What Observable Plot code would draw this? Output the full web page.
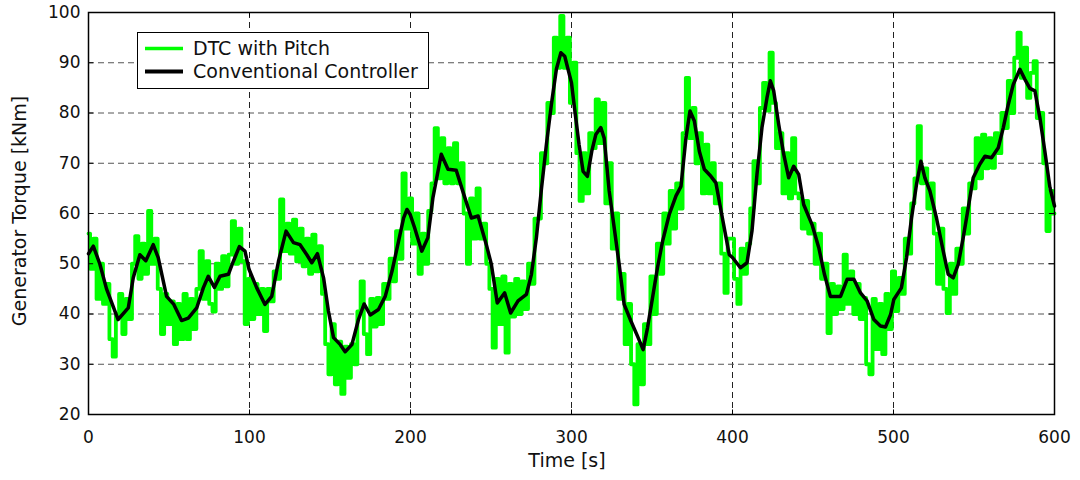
<!DOCTYPE html>
<html><head><meta charset="utf-8">
<script src="https://cdn.jsdelivr.net/npm/d3@7"></script>
<script src="https://cdn.jsdelivr.net/npm/@observablehq/plot@0.6"></script>
<style>body{margin:0;background:#fff;} #chart{width:1080px;height:480px;}</style>
</head><body><div id="chart"></div>
<script>
const xTicks = [0, 100, 200, 300, 400, 500, 600];
const yTicks = [20, 30, 40, 50, 60, 70, 80, 90, 100];
const seriesNames = ["DTC with Pitch", "Conventional Controller"];
const xLabel = "Time [s]";
const yLabel = "Generator Torque [kNm]";

// Conventional controller (black)
const convT = [0, 3, 7, 11.2, 18.4, 24.7, 27.8, 31.9, 35.6, 40.2, 43.3, 48.5, 53, 57.8, 62, 67.2, 71.3, 74.4, 78.2, 81.7, 86.9, 90, 93.7, 97.2, 99.7,
  104.5, 109.6, 113.8, 118, 122.7, 127.3, 131.4, 135.6, 138.7, 142.2, 146, 149, 152.2, 156.4, 159.4, 163.6, 167.7, 171.2, 175, 180.1, 184.3, 188.5, 192.6, 195.7, 197.8, 199.8,
  202.5, 207, 210.8, 213.9, 219.1, 223.3, 228.4, 232.8, 237.8, 242, 247.1, 250.2, 253.9, 258.5, 262.2, 266.8, 272, 275.1, 278.2, 281.4, 284.4, 287.5, 290.6, 293.4, 295.8, 300,
  301.6, 304.7, 307.2, 309.9, 312.6, 315.1, 318.2, 320.3, 323.4, 326.5, 329.6, 332.7, 336.9, 341, 344.5, 347.2, 350.3, 353.4, 356.6, 360.7, 364.9, 368, 371.1, 373.6, 376.3, 379.4, 382.5, 386.6, 389.7, 392.9, 396, 398, 400.1,
  404.9, 409, 412.1, 415.2, 418.3, 421.4, 423.5, 425.6, 428.7, 431.8, 434.9, 438, 441.1, 444.2, 449.4, 453.6, 457.1, 460.8, 467.1, 471.2, 475.4, 479.5, 483.6, 487.8, 491.9, 495, 498.2, 500.2,
  504.9, 508.1, 511.2, 514.3, 517, 519.5, 522.6, 526.7, 530.9, 534, 537.1, 540.2, 543.3, 546.4, 549.5, 553.6, 556.8, 560.9, 565.1, 568.2, 571.3, 574.4, 578.5, 581.6, 584.7, 587.8, 590.9, 594, 597.2, 600];
const convV = [52, 53.5, 50, 45, 38.9, 41.2, 47.2, 51.8, 50.6, 53.8, 51.2, 43.5, 41.9, 38.7, 39.2, 41.2, 45.2, 47.5, 45.3, 47.5, 47.9, 50.5, 53.4, 52.5, 48.9,
  45.2, 41.9, 43.5, 50.5, 56.5, 54.2, 53.8, 51.8, 50.2, 52, 47.2, 40.6, 35.3, 33.9, 32.5, 33.9, 38.9, 42, 39.8, 40.9, 43.5, 48.5, 54.5, 59.1, 60.8, 59.8,
  57.2, 52.5, 55.2, 63.1, 71.8, 68.8, 68.6, 64.1, 59.1, 59.5, 53.8, 49.9, 42.2, 44.2, 40.2, 42.6, 43.9, 47.9, 55.2, 65.1, 73.7, 81.7, 88.7, 92, 91.3, 86,
  81.7, 73.7, 68.4, 67.4, 72.4, 75.7, 77.1, 75, 64.5, 57.2, 49.9, 41.9, 38.6, 35.6, 32.9, 37.2, 43.2, 49.2, 54.5, 59.8, 63.5, 65.4, 75.1, 80.4, 78.4, 72.4, 68.8, 67.4, 66.1, 60.5, 55.2, 51.8, 51.2,
  49.2, 50.2, 56.5, 67.8, 77.1, 83, 86.4, 84.4, 77.7, 71.8, 67.1, 69.4, 67.8, 61.8, 57.8, 53.2, 47.9, 43.5, 43.5, 46.9, 46.9, 44.2, 42.6, 38.9, 37.6, 37.4, 39.9, 42.9,
  45.2, 51.2, 59.1, 65.8, 70.4, 67.1, 64.5, 59.1, 52.5, 47.9, 47.2, 49.9, 55.2, 61.1, 67.1, 69.8, 71.4, 71.1, 73.1, 77.1, 81.7, 85.7, 88.7, 86.7, 84.9, 84.4, 79.1, 72.4, 65.1, 61.5];

// DTC with pitch (green), sampled every 2 s from 0 to 600
const dtcStep = 2;
const dtcV = [
  56, 49, 55, 43, 50,   42, 46, 35, 31.5, 40,   44, 36, 43, 39, 50,   55.5, 47, 54, 48, 60.5,
  50, 55, 45, 36, 44,   38, 42.5, 34, 42, 35,   44, 35, 43, 37, 45,   52.5, 43, 50.5, 42, 40.5,
  50, 45, 51.5, 45.5, 51.8,   58.5, 50, 57, 50.5, 38,
  47, 39, 46, 40, 45,   36.6, 45, 42.5, 48.5, 47,   62.8, 52.5, 58, 52, 58.8,   50.5, 57, 49.5, 55, 48,
  55.8, 48.5, 53.5, 44, 34,   28, 38, 26, 34.5, 24.1,   33.5, 27.3, 34, 30, 40.5,   46.5, 36, 32, 43, 37.5,
  43.2, 38, 46, 43, 51,   46.5, 56.5, 51, 68, 57,
  63, 54, 60, 48, 56,   50, 60.5, 66, 77, 67,   75, 66, 73, 66, 74,   66, 70, 60, 50, 63,
  55, 65, 55, 58, 50,   45, 33.3, 47, 38, 47.5,   32.3, 46, 39.5, 47, 40,   46.5, 41, 50, 46, 59,
  59, 72, 70, 82, 80,   95, 89, 99.3, 89, 95,
  82, 90, 72, 62.5, 72,   64, 76, 73, 82.7, 74,   82, 62, 70, 53, 60,   43, 48, 34, 42, 30,
  22, 34, 26, 38, 34,   47.5, 40, 54, 48, 60,   54, 64.5, 57, 66, 61,   76, 87, 75, 81, 70,
  76, 64, 73.7, 64, 70,   62, 66, 52, 44.2, 55,
  55, 47, 42, 53, 48,   54, 61, 70.4, 66, 81,   86, 80.5, 92, 82, 73,   76, 64, 72, 63, 75,
  64, 63, 57, 62.5, 56,   58, 50, 56, 47, 50,   36.2, 46, 40, 45.5, 41,   51.8, 42, 48.5, 40, 46,
  39, 43.2, 30, 28, 43,   33, 42, 32, 44, 37,
  48.5, 40.6, 47.2, 44, 55,   52, 62, 67, 77.4, 66,   69, 61, 66, 56, 46,   57, 45, 40.2, 50, 44,
  53, 50, 61, 56, 66,   65, 75, 67, 75.7, 69,   75, 69.1, 76, 72, 80,   77, 86.4, 80, 91, 96,
  87, 93, 83, 88, 90.3,   79, 80, 70, 56.5, 64.5,
  60];

const dtcRows = dtcV.map((v, i) => ({t: i * dtcStep, v}));
const convRows = convV.map((v, i) => ({t: convT[i], v}));

const chart = Plot.plot({
  width: 1080, height: 480,
  marginLeft: 88, marginRight: 26, marginTop: 12, marginBottom: 66,
  style: {fontFamily: "DejaVu Sans", fontSize: "17px", background: "#fff", color: "#111"},
  x: {domain: [0, 600], ticks: xTicks, label: null},
  y: {domain: [20, 100], ticks: yTicks, label: null},
  marks: [
    Plot.gridX(xTicks.slice(1, -1), {stroke: "#222", strokeOpacity: 1, strokeWidth: 1, strokeDasharray: "6,4"}),
    Plot.gridY(yTicks.slice(1, -1), {stroke: "#555", strokeOpacity: 1, strokeWidth: 1, strokeDasharray: "6,4"}),
    Plot.line(dtcRows, {x: "t", y: "v", stroke: "#00ff00", strokeWidth: 3.8, curve: "step"}),
    Plot.line(convRows, {x: "t", y: "v", stroke: "#000", strokeWidth: 3.5}),
    Plot.ruleY(yTicks.slice(1, -1), {x1: 0, x2: 3.2, stroke: "#000"}),
    Plot.ruleY(yTicks.slice(1, -1), {x1: 596.8, x2: 600, stroke: "#000"}),
    Plot.ruleX(xTicks.slice(1, -1), {y1: 20, y2: 20.9, stroke: "#000"}),
    Plot.ruleX(xTicks.slice(1, -1), {y1: 99.1, y2: 100, stroke: "#000"}),
    Plot.frame({stroke: "#000", strokeWidth: 1.5}),
    Plot.axisX(xTicks, {tickSize: 0, tickPadding: 16, fontSize: 17, label: null}),
    Plot.axisY(yTicks, {tickSize: 0, tickPadding: 8, fontSize: 17, label: null})
  ]
});

const svg = d3.select(chart);
svg.append("text").attr("x", 567).attr("y", 461).attr("text-anchor", "middle").attr("dominant-baseline", "middle")
  .attr("font-size", 19).attr("fill", "#111").text(xLabel);
svg.append("text").attr("transform", "translate(20,211) rotate(-90)").attr("text-anchor", "middle").attr("dominant-baseline", "middle")
  .attr("font-size", 19).attr("fill", "#111").text(yLabel);

const lg = svg.append("g").attr("text-anchor", "start");
lg.append("rect").attr("x", 137.5).attr("y", 32.5).attr("width", 291).attr("height", 56).attr("fill", "#fff").attr("stroke", "#000").attr("stroke-width", 1);
const colors = ["#00ff00", "#000"];
seriesNames.forEach((name, i) => {
  const cy = 48.5 + i * 23;
  lg.append("line").attr("x1", 145).attr("x2", 183).attr("y1", cy).attr("y2", cy).attr("stroke", colors[i]).attr("stroke-width", i ? 4 : 3.5);
  lg.append("text").attr("x", 193).attr("y", cy + 1).attr("text-anchor", "start").attr("dominant-baseline", "middle")
    .attr("font-size", 19).attr("fill", "#111").text(name);
});

document.getElementById("chart").appendChild(chart);
</script>
</body></html>
